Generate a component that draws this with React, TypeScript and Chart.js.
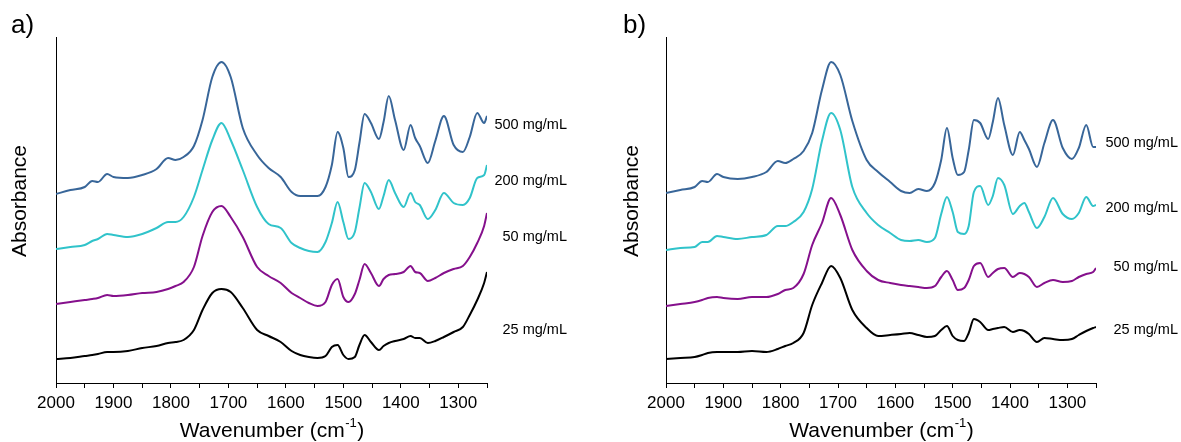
import React, { useEffect, useRef } from 'react';
import { Chart, registerables } from 'chart.js';

Chart.register(...registerables);

const FONT = "'Liberation Sans', Arial, Helvetica, sans-serif";

// Wavenumber grid (cm-1), shared by all spectra
const wavenumbers = [2000, 1975, 1950, 1937, 1927, 1911, 1900, 1875, 1850, 1825, 1805, 1792, 1778, 1760, 1745, 1728, 1712, 1696, 1675, 1650, 1630, 1609, 1590, 1575, 1560, 1545, 1531, 1520, 1510, 1500, 1491, 1480, 1472, 1463, 1452, 1438, 1430, 1421, 1410, 1395, 1383, 1375, 1367, 1353, 1340, 1325, 1308, 1292, 1280, 1267, 1255, 1250];

// Panel a) — offset absorbance (arbitrary units)
const a500 = [189, 193, 196, 202, 201, 209, 206, 205, 208, 214, 225, 223, 226, 237, 263, 306, 321, 306, 255, 228, 215, 206, 191, 187, 187, 187, 196, 218, 251, 235, 206, 213, 240, 269, 260, 244, 261, 287, 263, 233, 258, 245, 237, 220, 242, 267, 238, 231, 246, 270, 260, 267];
const a200 = [134, 136, 138, 142, 144, 149, 148, 146, 149, 155, 161, 161, 166, 186, 213, 243, 260, 243, 213, 176, 159, 155, 140, 135, 132, 131, 141, 160, 181, 161, 144, 151, 175, 200, 191, 174, 187, 203, 190, 176, 190, 181, 178, 164, 173, 190, 180, 178, 185, 205, 208, 218];
const a50 = [79, 81, 83, 84, 85, 88, 87, 88, 90, 91, 94, 97, 101, 116, 147, 171, 177, 166, 146, 116, 107, 100, 90, 85, 80, 77, 81, 98, 104, 86, 81, 89, 103, 119, 110, 97, 104, 108, 109, 111, 117, 111, 110, 102, 105, 110, 114, 117, 126, 140, 157, 170];
const a25 = [24, 25, 27, 28, 29, 31, 31, 32, 35, 37, 40, 41, 43, 53, 73, 90, 94, 91, 75, 53, 47, 41, 32, 28, 26, 25, 27, 36, 38, 28, 24, 26, 38, 48, 41, 33, 37, 40, 42, 44, 47, 45, 45, 40, 42, 46, 51, 56, 68, 83, 100, 111];

// Panel b)
const b500 = [190, 193, 196, 202, 201, 209, 206, 204, 206, 211, 222, 220, 224, 232, 250, 293, 321, 308, 262, 223, 211, 201, 192, 190, 194, 192, 200, 223, 255, 225, 208, 211, 233, 263, 260, 244, 261, 285, 258, 228, 251, 243, 234, 216, 240, 263, 235, 224, 235, 258, 236, 236];
const b200 = [133, 135, 136, 141, 141, 147, 146, 144, 146, 148, 157, 157, 161, 171, 194, 242, 270, 253, 196, 170, 158, 150, 143, 142, 143, 141, 145, 169, 186, 171, 151, 149, 157, 191, 197, 178, 187, 205, 198, 169, 177, 180, 171, 155, 166, 185, 169, 164, 170, 186, 177, 178];
const b50 = [77, 79, 81, 83, 85, 86, 85, 84, 86, 86, 89, 93, 95, 109, 138, 160, 185, 168, 133, 112, 103, 100, 98, 97, 96, 95, 97, 106, 112, 103, 93, 95, 103, 117, 120, 106, 110, 114, 115, 106, 110, 109, 106, 96, 100, 103, 101, 102, 106, 109, 111, 115];
const b25 = [24, 25, 26, 28, 30, 31, 31, 31, 32, 31, 34, 37, 40, 50, 78, 100, 117, 105, 73, 55, 47, 48, 49, 50, 48, 46, 47, 53, 57, 47, 43, 42, 50, 64, 61, 53, 54, 55, 56, 51, 53, 52, 49, 41, 45, 44, 43, 44, 48, 52, 55, 56];

const seriesLabels = ['500 mg/mL', '200 mg/mL', '50 mg/mL', '25 mg/mL'];
const seriesColors = ['#386699', '#30c3ca', '#85108c', '#000000'];
const labelPosA = [258, 202, 146, 53];
const labelPosB = [240, 175, 116, 53];
const xTicks = [2000, 1950, 1900, 1850, 1800, 1750, 1700, 1650, 1600, 1550, 1500, 1450, 1400, 1350, 1300, 1250];

const textPlugin = {
  id: 'panelText',
  afterDraw(chart: any, _args: any, opts: any) {
    const { ctx, chartArea } = chart;
    ctx.save();
    ctx.fillStyle = '#000';
    // panel letter
    ctx.font = `26px ${FONT}`;
    ctx.textAlign = 'left';
    ctx.textBaseline = 'alphabetic';
    ctx.fillText(opts.letter, opts.letterX, 33);
    // y title
    ctx.save();
    ctx.translate(opts.absX, (chartArea.top + chartArea.bottom) / 2 - 9);
    ctx.rotate(-Math.PI / 2);
    ctx.font = `21px ${FONT}`;
    ctx.textAlign = 'center';
    ctx.textBaseline = 'middle';
    ctx.fillText('Absorbance', 0, 0);
    ctx.restore();
    // x title with superscript
    const main = 'Wavenumber (cm';
    const sup = '-1';
    const close = ')';
    ctx.textAlign = 'left';
    ctx.textBaseline = 'alphabetic';
    ctx.font = `21px ${FONT}`;
    const w1 = ctx.measureText(main).width;
    const w3 = ctx.measureText(close).width;
    ctx.font = `13px ${FONT}`;
    const w2 = ctx.measureText(sup).width;
    const cx = (chartArea.left + chartArea.right) / 2;
    let x = cx - (w1 + w2 + w3) / 2;
    const base = 437;
    ctx.font = `21px ${FONT}`;
    ctx.fillText(main, x, base);
    x += w1;
    ctx.font = `13px ${FONT}`;
    ctx.fillText(sup, x + 0.5, base - 10);
    x += w2 + 1;
    ctx.font = `21px ${FONT}`;
    ctx.fillText(close, x, base);
    // series labels
    const yScale = chart.scales.y;
    ctx.font = `14.5px ${FONT}`;
    ctx.textAlign = 'right';
    ctx.textBaseline = 'middle';
    opts.labelPos.forEach((v: number, i: number) => {
      ctx.fillText(seriesLabels[i], opts.labelRight, yScale.getPixelForValue(v));
    });
    ctx.restore();
  },
};

type PanelProps = {
  letter: string;
  series: number[][];
  labelPos: number[];
  left: number;
  width: number;
  yAxisWidth: number;
  rightPad: number;
  labelRight: number;
  letterX: number;
  absX: number;
};

function Panel(p: PanelProps) {
  const ref = useRef<HTMLCanvasElement>(null);
  useEffect(() => {
    const chart = new Chart(ref.current as HTMLCanvasElement, {
      type: 'line',
      data: {
        datasets: p.series.map((vals, i) => ({
          label: seriesLabels[i],
          data: wavenumbers.map((w, j) => ({ x: w, y: vals[j] })),
          borderColor: seriesColors[i],
          borderWidth: 2,
          pointRadius: 0,
          fill: false,
          cubicInterpolationMode: 'monotone' as const,
        })),
      },
      options: {
        responsive: false,
        animation: false,
        devicePixelRatio: 1,
        layout: { padding: { top: 37, right: p.rightPad, left: 0, bottom: 0 } },
        plugins: {
          legend: { display: false },
          tooltip: { enabled: false },
          // @ts-ignore
          panelText: { letter: p.letter, labelPos: p.labelPos, labelRight: p.labelRight, letterX: p.letterX, absX: p.absX },
        },
        scales: {
          x: {
            type: 'linear',
            reverse: true,
            min: 1250,
            max: 2000,
            afterBuildTicks: (s: any) => {
              s.ticks = xTicks.map((v) => ({ value: v }));
            },
            afterFit: (s: any) => {
              s.height = 59;
            },
            ticks: {
              callback: (v: any) => (Number(v) % 100 === 0 ? String(v) : ''),
              color: '#000',
              font: { family: FONT, size: 17 },
              padding: 5,
              maxRotation: 0,
              autoSkip: false,
            },
            grid: { drawOnChartArea: false, drawTicks: true, tickLength: 5, color: '#000' },
            border: { display: true, color: '#000', width: 1 },
          },
          y: {
            min: 0,
            max: 346,
            ticks: { display: false },
            grid: { drawOnChartArea: false, drawTicks: false },
            border: { display: true, color: '#000', width: 1 },
            afterFit: (s: any) => {
              s.width = p.yAxisWidth;
            },
          },
        },
      },
      plugins: [textPlugin],
    } as any);
    return () => chart.destroy();
  }, []);
  return (
    <canvas
      ref={ref}
      width={p.width}
      height={442}
      style={{ position: 'absolute', left: p.left, top: 0, display: 'block', width: p.width, height: 442 }}
    />
  );
}

export default function App() {
  return (
    <div style={{ position: 'absolute', left: 0, top: 0, width: 1181, height: 442, background: '#fff', overflow: 'hidden' }}>
      <Panel letter="a)" series={[a500, a200, a50, a25]} labelPos={labelPosA} left={0} width={600}
        yAxisWidth={56} rightPad={113} labelRight={567} letterX={11} absX={20} />
      <Panel letter="b)" series={[b500, b200, b50, b25]} labelPos={labelPosB} left={600} width={581}
        yAxisWidth={66} rightPad={85} labelRight={578} letterX={23} absX={32} />
    </div>
  );
}
